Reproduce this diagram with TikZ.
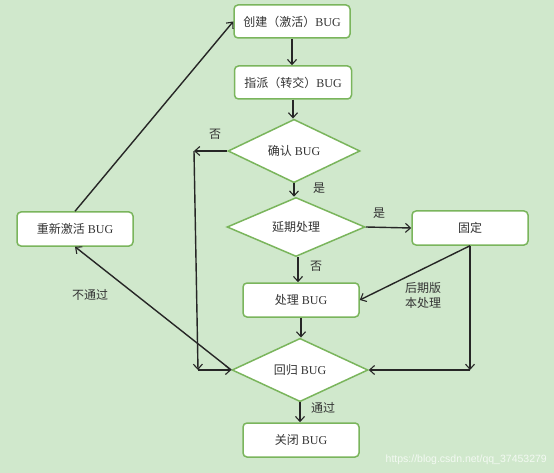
\documentclass[tikz,border=0pt]{standalone}
\usepackage{fontspec}
\setmainfont{Liberation Serif}
\newfontfamily\cjk{Noto Sans CJK SC}
\newfontfamily\wmfont{Liberation Sans}
\usetikzlibrary{shapes.geometric,arrows.meta}
\definecolor{bgc}{HTML}{D0E8CC}
\definecolor{edge}{HTML}{7AB55C}
\definecolor{txt}{HTML}{333333}
\tikzset{
  box/.style={rectangle,rounded corners=4pt,draw=edge,line width=1.5pt,fill=white,
    minimum width=116pt,minimum height=33pt,inner sep=0pt,text=txt,font=\fontsize{12}{14}\selectfont},
  dia/.style={diamond,draw=edge,line width=1.5pt,fill=white,inner sep=0pt,text=txt,
    font=\fontsize{12}{14}\selectfont},
  arr/.style={-{Straight Barb[length=5pt,width=9pt,line width=1.1pt]},line width=1.4pt,draw=black!85},
  lbl/.style={text=txt,font=\fontsize{12}{15}\selectfont\cjk,inner sep=0pt,align=center}
}
\begin{document}
\begin{tikzpicture}[x=1pt,y=-1pt]
\fill[bgc] (0,0) rectangle (554,473);
\useasboundingbox (0,0) rectangle (554,473);

\node[box] (b1) at (292,21.5) {{\cjk 创建（激活）}BUG};
\node[box,minimum width=117pt] (b2) at (293,82.5) {{\cjk 指派（转交）}BUG};
\node[dia,minimum width=132pt,minimum height=50pt] (d1) at (294,151) {{\cjk 确认} BUG};
\node[dia,minimum width=138pt,minimum height=54pt] (d2) at (296,227) {{\cjk 延期处理}};
\node[box,minimum height=34pt] (fix) at (470,228) {{\cjk 固定}};
\node[box,minimum height=34pt] (proc) at (301,300) {{\cjk 处理} BUG};
\node[dia,minimum width=136pt,minimum height=56pt] (d3) at (300,370) {{\cjk 回归} BUG};
\node[box,minimum height=34pt] (close) at (301,440) {{\cjk 关闭} BUG};
\node[box,minimum height=34pt] (reopen) at (75,229) {{\cjk 重新激活} BUG};

\coordinate (c1) at (194,151);
\coordinate (c2) at (198,370);
\coordinate (c3) at (470,370);

\draw[arr] (b1.south) -- (b1.south |- b2.north);
\draw[arr] (b2.south) -- (b2.south |- d1.north);
\draw[arr] (d1.south) -- (d1.south |- d2.north);
\draw[arr] ([xshift=2pt]d2.south) -- ([xshift=2pt]d2.south |- proc.north);
\draw[arr] (proc.south) -- (proc.south |- d3.north);
\draw[arr] (d3.south) -- (d3.south |- close.north);
\draw[arr] (d1.west) -- (c1);
\draw[arr] (c1) -- (c2);
\draw[arr] (c2) -- (d3.west);
\draw[arr] (d2.east) -- (fix.west);
\draw[arr] (fix.south) -- (proc.east);
\draw[arr] (fix.south) -- (c3);
\draw[arr] (c3) -- (d3.east);
\draw[arr] (d3.west) -- (reopen.south);
\draw[arr] (reopen.north) -- (b1.west);

\node[lbl] (l1) at (215,134) {否};
\node[lbl] (l2) at (319,188) {是};
\node[lbl] (l3) at (379,213) {是};
\node[lbl] (l4) at (316,266) {否};
\node[lbl] (l5) at (423,295) {后期版\\本处理};
\node[lbl] (l6) at (90,295) {不通过};
\node[lbl] (l7) at (323,408) {通过};

\node[text=white,opacity=0.75,font=\fontsize{10.5}{12}\selectfont\wmfont,inner sep=0pt,anchor=east] (wm) at (547,460) {https://blog.csdn.net/qq\_37453279};
\end{tikzpicture}
\end{document}
